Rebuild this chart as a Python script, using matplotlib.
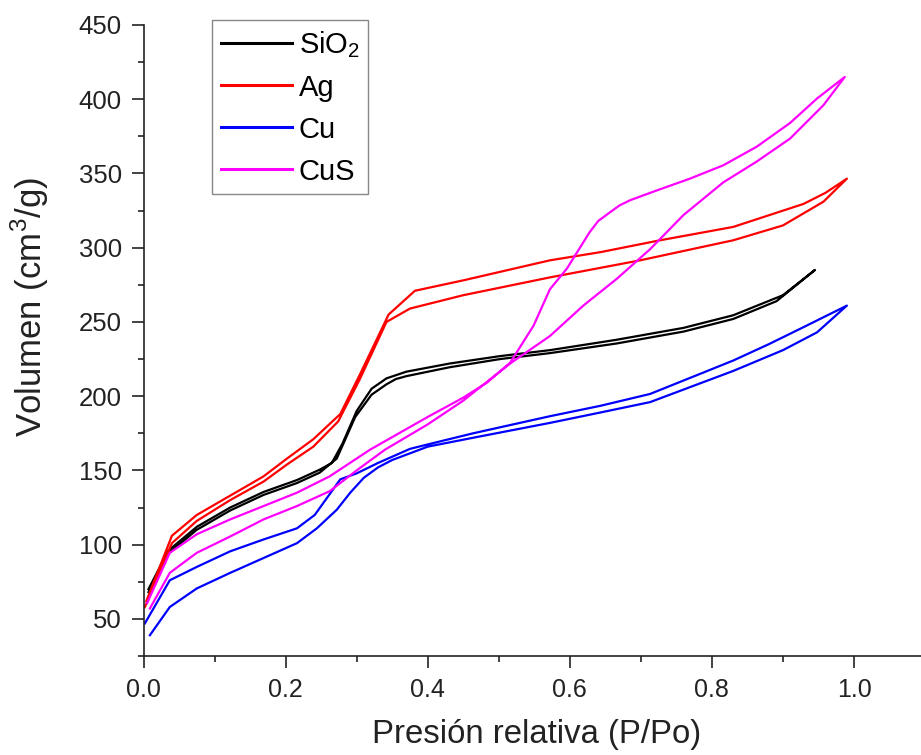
import matplotlib
matplotlib.use("Agg")
import matplotlib.pyplot as plt
from matplotlib.ticker import MultipleLocator

plt.rcParams['font.family'] = ['Liberation Sans', 'DejaVu Sans']

# SiO2 isotherm (adsorption / desorption)
sio2_ads_x = [0.007, 0.035, 0.075, 0.122, 0.169, 0.216, 0.248, 0.272, 0.285, 0.298, 0.321, 0.342, 0.355, 0.370, 0.431, 0.502, 0.572, 0.666, 0.760, 0.830, 0.891, 0.945]
sio2_ads_y = [68, 94, 110, 123, 133.5, 141.5, 148.5, 158, 172, 186, 201, 208, 211.5, 213.5, 219.5, 225, 229, 235.5, 243.5, 252, 264, 285]
sio2_des_x = [0.945, 0.900, 0.830, 0.760, 0.666, 0.572, 0.502, 0.431, 0.370, 0.342, 0.321, 0.300, 0.280, 0.265, 0.248, 0.216, 0.169, 0.122, 0.075, 0.035, 0.007]
sio2_des_y = [285, 268, 254.5, 246, 238, 231, 227, 222, 216.5, 212, 205, 190, 168, 155, 150.5, 143.5, 135.5, 125, 112, 96, 70]

# Ag
ag_ads_x = [0.002, 0.040, 0.075, 0.122, 0.169, 0.202, 0.239, 0.274, 0.304, 0.342, 0.375, 0.450, 0.572, 0.699, 0.830, 0.900, 0.957, 0.990]
ag_ads_y = [58, 101, 116, 130, 142.5, 154, 166, 183, 211, 250, 259, 268, 280, 291.5, 305, 315, 331, 346.5]
ag_des_x = [0.990, 0.960, 0.929, 0.830, 0.727, 0.643, 0.572, 0.450, 0.382, 0.345, 0.306, 0.277, 0.239, 0.202, 0.169, 0.122, 0.075, 0.040, 0.004]
ag_des_y = [346.5, 337, 329.5, 314, 305, 297, 291.5, 278, 271, 255, 216, 188, 171, 158, 146, 133, 120, 106, 62]

# Cu
cu_ads_x = [0.009, 0.037, 0.075, 0.122, 0.169, 0.216, 0.244, 0.272, 0.291, 0.310, 0.330, 0.350, 0.400, 0.464, 0.572, 0.643, 0.713, 0.830, 0.900, 0.948, 0.990]
cu_ads_y = [39, 58, 70.5, 81, 91, 101, 111, 123.5, 135, 145, 152, 157, 166, 172, 182, 189, 196, 217, 231, 243, 261]
cu_des_x = [0.990, 0.929, 0.880, 0.830, 0.713, 0.643, 0.572, 0.464, 0.400, 0.375, 0.330, 0.300, 0.277, 0.241, 0.216, 0.169, 0.122, 0.075, 0.037, 0.002]
cu_des_y = [261, 246.5, 235, 224, 201.5, 193.5, 186.5, 175, 167.5, 164.5, 155, 148, 144, 120, 111, 103.5, 95.5, 85, 76, 47]

# CuS
cus_ads_x = [0.009, 0.037, 0.075, 0.122, 0.169, 0.216, 0.262, 0.300, 0.340, 0.400, 0.450, 0.516, 0.572, 0.619, 0.666, 0.713, 0.760, 0.816, 0.863, 0.910, 0.957, 0.987]
cus_ads_y = [57, 81, 94.5, 105.5, 117, 126, 136, 150, 164, 181, 197, 222, 240.5, 261, 279, 299, 322, 344, 358, 373.5, 396, 415]
cus_des_x = [0.987, 0.948, 0.910, 0.863, 0.816, 0.769, 0.722, 0.685, 0.670, 0.657, 0.640, 0.628, 0.596, 0.572, 0.549, 0.516, 0.483, 0.450, 0.400, 0.319, 0.262, 0.216, 0.169, 0.122, 0.075, 0.037, 0.005]
cus_des_y = [415, 400.5, 384, 368, 355.5, 346.5, 338.5, 332, 328.5, 324, 318, 310.5, 286, 272, 247.5, 222.5, 209, 199, 186, 164, 146, 135, 126, 117, 107, 94.5, 60.5]

labels = [r'SiO$_\mathregular{2}$', 'Ag', 'Cu', 'CuS']
colors = ['#000000', '#ff0000', '#0000ff', '#ff00ff']
series = [
    (sio2_ads_x, sio2_ads_y, sio2_des_x, sio2_des_y),
    (ag_ads_x, ag_ads_y, ag_des_x, ag_des_y),
    (cu_ads_x, cu_ads_y, cu_des_x, cu_des_y),
    (cus_ads_x, cus_ads_y, cus_des_x, cus_des_y),
]

fig = plt.figure(figsize=(9.21, 7.55), dpi=100)
ax = fig.add_axes([143.5 / 921, 99 / 755, 777.5 / 921, 631 / 755])

for (ax_x, ax_y, dx, dy), lab, col in zip(series, labels, colors):
    ax.plot(list(ax_x) + list(dx), list(ax_y) + list(dy), color=col, lw=1.6, label=lab)

ax.set_xlim(0, 777.5 / 710.5)
ax.set_ylim(25, 450)
ax.xaxis.set_major_locator(MultipleLocator(0.2))
ax.xaxis.set_minor_locator(MultipleLocator(0.1))
ax.yaxis.set_major_locator(MultipleLocator(50))
ax.yaxis.set_minor_locator(MultipleLocator(25))
ax.xaxis.set_major_formatter(plt.FormatStrFormatter('%.1f'))

for s in ['top', 'right']:
    ax.spines[s].set_visible(False)
for s in ['left', 'bottom']:
    ax.spines[s].set_linewidth(1.2)
    ax.spines[s].set_color('#222222')

ax.tick_params(which='major', direction='out', length=8.5, width=1.2, color='#222222', pad=7)
ax.tick_params(which='minor', direction='out', length=4.5, width=1.2, color='#222222')
ax.tick_params(axis='y', labelsize=18.5, labelcolor='#222222')
ax.tick_params(axis='x', labelsize=18, labelcolor='#222222')

ax.set_xlabel('Presión relativa (P/Po)', fontsize=23.7, color='#222222')
ax.set_ylabel(r'Volumen (cm$^\mathregular{3}$/g)', fontsize=25, color='#222222')
ax.xaxis.set_label_coords(0.505, -0.10)
ax.yaxis.set_label_coords(-0.119, 0.553)

leg = ax.legend(loc='upper left', bbox_to_anchor=(212 / 921, 1 - 20 / 755), bbox_transform=fig.transFigure,
                borderaxespad=0, fontsize=21, handlelength=2.45, handletextpad=0.22, labelspacing=0.48,
                borderpad=0.3, fancybox=False, framealpha=1, edgecolor='#888888')
leg.get_frame().set_linewidth(1.0)
for line in leg.get_lines():
    line.set_linewidth(2.2)

fig.savefig('out.png', dpi=100)
